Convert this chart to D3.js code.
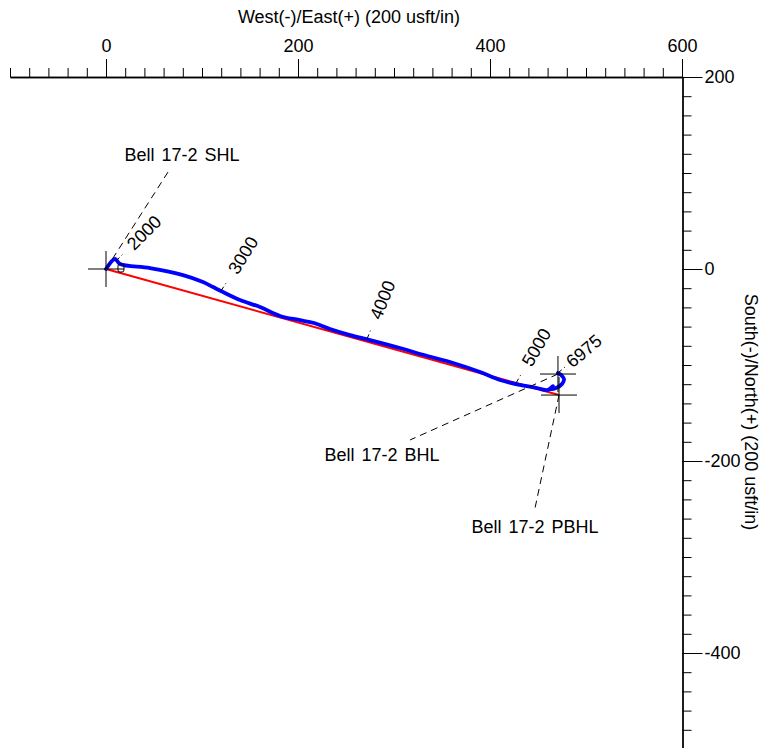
<!DOCTYPE html>
<html>
<head>
<meta charset="utf-8">
<script src="https://cdn.jsdelivr.net/npm/d3@7"></script>
<style>
  html, body { margin: 0; padding: 0; background: #ffffff; }
  svg { display: block; font-family: "Liberation Sans", Arial, sans-serif; }
</style>
</head>
<body>
<svg id="chart" width="762" height="748"></svg>
<script>
// ---- data (units: usft) ----
const xTitle = "West(-)/East(+) (200 usft/in)";
const yTitle = "South(-)/North(+) (200 usft/in)";
const xMajorTicks = [0, 200, 400, 600];
const yMajorTicks = [200, 0, -200, -400];

// planned wellpath (red)
const planE = [0, 471.9];
const planN = [0, -131.3];

// actual wellpath (blue)
const actualE = [0, 9.4, 14.6, 45.8, 80.2, 101.0, 111.5, 121.9, 139.6, 160.4, 181.3, 201.0, 216.7, 233.3, 254.2, 275.0, 306.3, 327.1, 358.3, 389.6, 410.4, 431.3, 449.0, 460.4, 465.6, 463.5, 468.8, 475.0, 477.1, 474.0, 470.8];
const actualN = [0, 10.4, 5.2, 1.0, -6.3, -13.5, -18.8, -24.0, -32.3, -39.6, -48.9, -53.1, -56.3, -62.5, -68.8, -74.0, -82.3, -88.5, -96.9, -107.3, -115.6, -120.8, -124.0, -126.0, -121.9, -125.0, -124.0, -119.8, -114.6, -110.4, -108.3];

// measured-depth annotations along the actual path
const mdLabels = ["2000", "3000", "4000", "5000", "6975"];
const mdE = [10.4, 119.8, 271.9, 427.1, 470.8];
const mdN = [8.3, -22.9, -72.9, -118.8, -108.3];
const mdAngle = [-45, -58, -68, -60, -40];

// targets
const targetNames = ["Bell 17-2 SHL", "Bell 17-2 BHL", "Bell 17-2 PBHL"];
const targetE = [0, 470.8, 471.9];
const targetN = [0, -109.4, -131.3];
const leaderE = [64.6, 316.7, 446.9];
const leaderN = [101.0, -178.1, -249.0];
const labelE = [79.2, 287.5, 446.9];
const labelN = [118.8, -193.8, -268.8];

// small marker near surface
const markerE = [15.6];
const markerN = [0];

// ---- drawing ----
const svg = d3.select("#chart");
const x = d3.scaleLinear().domain([-100, 600]).range([10, 682]);
const y = d3.scaleLinear().domain([200, -500]).range([77, 749]);
const axisX = 682.5, axisY = 77;

const range = (a, b, s) => d3.range(a, b + s / 2, s);
const fmt = d => String(d);

// top axis
const gTop = svg.append("g").attr("transform", `translate(0,${axisY})`);
gTop.call(d3.axisTop(x).tickValues(range(-100, 600, 20).filter(v => v % 200 !== 0)).tickSize(9).tickSizeOuter(0).tickFormat(""));
gTop.append("g").call(d3.axisTop(x).tickValues(xMajorTicks).tickSize(18).tickSizeOuter(0).tickPadding(7).tickFormat(fmt));
// right axis
const gRight = svg.append("g").attr("transform", `translate(${axisX},0)`);
gRight.call(d3.axisRight(y).tickValues(range(-500, 200, 20).filter(v => v % 200 !== 0)).tickSize(9).tickSizeOuter(0).tickFormat(""));
gRight.append("g").call(d3.axisRight(y).tickValues(yMajorTicks).tickSize(20).tickSizeOuter(0).tickPadding(2).tickFormat(fmt));
svg.selectAll(".domain").attr("stroke", "#000").attr("stroke-width", 1.3);
svg.selectAll(".tick line").attr("stroke", "#000").attr("stroke-width", 1);
svg.selectAll(".tick text").attr("font-size", 18).attr("font-family", "Liberation Sans, Arial, sans-serif").attr("fill", "#000");

svg.append("text").attr("x", 349).attr("y", 23).attr("text-anchor", "middle")
  .attr("font-size", 18).text(xTitle);
svg.append("text").attr("transform", `translate(745,412) rotate(90)`).attr("text-anchor", "middle")
  .attr("font-size", 18).text(yTitle);

// planned path
svg.append("path").datum(d3.zip(planE, planN))
  .attr("d", d3.line().x(d => x(d[0])).y(d => y(d[1])))
  .attr("fill", "none").attr("stroke", "#ff0000").attr("stroke-width", 2);

// actual path
svg.append("path").datum(d3.zip(actualE, actualN))
  .attr("d", d3.line().x(d => x(d[0])).y(d => y(d[1])).curve(d3.curveCatmullRom.alpha(0.5)))
  .attr("fill", "none").attr("stroke", "#0000ff").attr("stroke-width", 3.8)
  .attr("stroke-linejoin", "round").attr("stroke-linecap", "round");

// marker
svg.selectAll("rect.mk").data(d3.zip(markerE, markerN)).join("rect")
  .attr("x", d => x(d[0]) - 3).attr("y", d => y(d[1]) - 5).attr("width", 6).attr("height", 8)
  .attr("rx", 2).attr("fill", "none").attr("stroke", "#000").attr("stroke-width", 1);

// target crosses
const targets = d3.range(targetNames.length).map(i => ({
  name: targetNames[i], e: targetE[i], n: targetN[i],
  le: leaderE[i], ln: leaderN[i], te: labelE[i], tn: labelN[i]
}));
const cs = 18;
targets.forEach(t => {
  const cx = x(t.e), cy = y(t.n);
  svg.append("line").attr("x1", cx - cs).attr("x2", cx + cs).attr("y1", cy).attr("y2", cy)
    .attr("stroke", "#000").attr("stroke-width", 1);
  svg.append("line").attr("x1", cx).attr("x2", cx).attr("y1", cy - cs).attr("y2", cy + cs)
    .attr("stroke", "#000").attr("stroke-width", 1);
  svg.append("line").attr("x1", cx).attr("y1", cy).attr("x2", x(t.le)).attr("y2", y(t.ln))
    .attr("stroke", "#000").attr("stroke-width", 1).attr("stroke-dasharray", "7,5");
  svg.append("text").attr("x", x(t.te)).attr("y", y(t.tn)).attr("text-anchor", "middle")
    .attr("dominant-baseline", "central").attr("font-size", 18).attr("word-spacing", 2).text(t.name);
});

// MD annotations
const mdGap = [20, 22, 22, 21, 14];
mdLabels.forEach((lab, i) => {
  const px = x(mdE[i]), py = y(mdN[i]);
  const a = mdAngle[i] * Math.PI / 180;
  svg.append("line").attr("x1", px).attr("y1", py)
    .attr("x2", px + 9 * Math.cos(a)).attr("y2", py + 9 * Math.sin(a))
    .attr("stroke", "#000").attr("stroke-width", 1).attr("stroke-dasharray", "5,3");
  svg.append("text")
    .attr("transform", `translate(${px + mdGap[i] * Math.cos(a)},${py + mdGap[i] * Math.sin(a)}) rotate(${mdAngle[i]})`)
    .attr("dominant-baseline", "central").attr("font-size", 18).text(lab);
});
</script>
</body>
</html>
